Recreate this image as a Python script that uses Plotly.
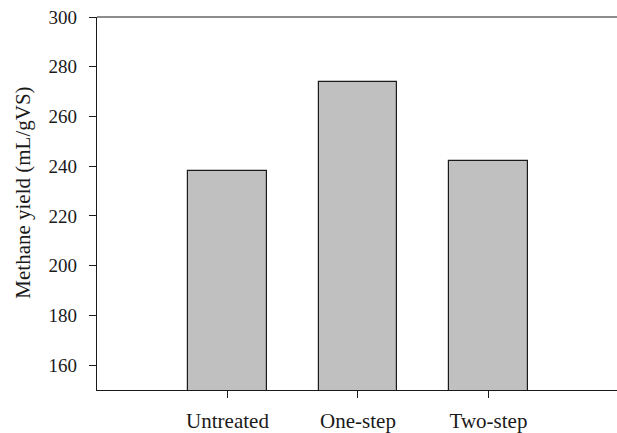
import plotly.graph_objects as go

categories = ["Untreated", "One-step", "Two-step"]
methane_yield = [238, 274, 242]
y_ticks = [160, 180, 200, 220, 240, 260, 280, 300]

FONT = "Liberation Serif"

fig = go.Figure()
fig.add_trace(go.Bar(
    x=list(range(len(categories))),
    y=methane_yield,
    width=0.6,
    marker=dict(color="#c0c0c0", line=dict(color="#1a1a1a", width=1.2)),
))

fig.update_layout(
    width=617, height=433,
    margin=dict(l=97, r=0, t=17, b=39),
    paper_bgcolor="white", plot_bgcolor="white",
    showlegend=False,
    font=dict(family=FONT, size=19, color="#1a1a1a"),
    bargap=0,
)
fig.update_xaxes(
    range=[-1.0, 2.985],
    tickmode="array",
    tickvals=list(range(len(categories))),
    ticktext=categories,
    tickfont=dict(family=FONT, size=21, color="#1a1a1a"),
    ticks="outside", ticklen=7, tickwidth=1.2, tickcolor="#1a1a1a",
    showline=True, linecolor="#1a1a1a", linewidth=1.2,
    showgrid=False, zeroline=False,
    ticklabelstandoff=5,
)
fig.update_yaxes(
    range=[150, 300],
    tickmode="array",
    tickvals=y_ticks,
    tickfont=dict(family=FONT, size=19, color="#1a1a1a"),
    ticks="outside", ticklen=7, tickwidth=1.2, tickcolor="#1a1a1a",
    showline=True, linecolor="#1a1a1a", linewidth=1.2,
    showgrid=False, zeroline=False,
    ticklabelstandoff=8,
)
# top frame line (no right border visible in reference)
fig.add_shape(type="line", xref="paper", yref="paper", x0=0, x1=1, y0=1, y1=1,
              line=dict(color="#1a1a1a", width=1.2))
fig.add_annotation(
    text="Methane yield (mL/gVS)", textangle=-90,
    xref="paper", yref="paper", x=0, y=0.529,
    xanchor="center", yanchor="middle", xshift=-74,
    showarrow=False, font=dict(family=FONT, size=21, color="#1a1a1a"),
)

fig.write_html("out.html")
